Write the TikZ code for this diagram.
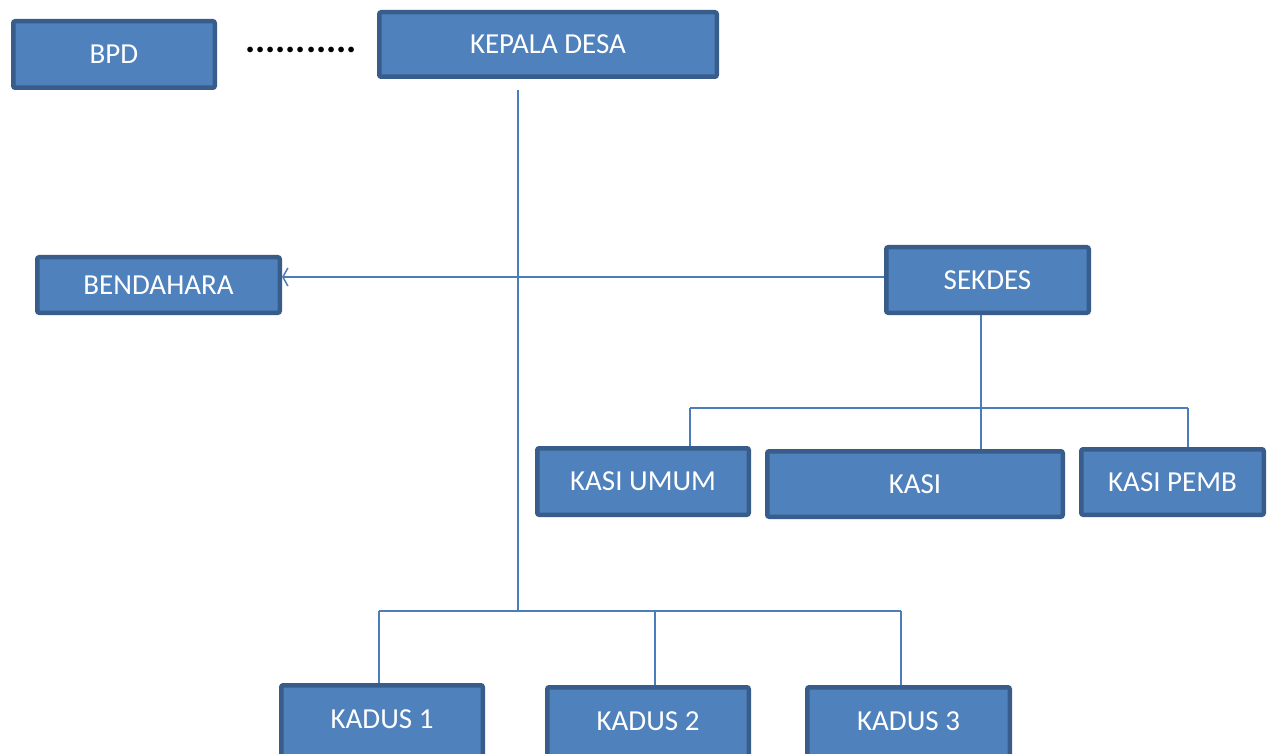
\documentclass[tikz,border=0pt]{standalone}
\usepackage{fontspec}
\setmainfont{Carlito}
\usetikzlibrary{arrows.meta}
\definecolor{boxfill}{HTML}{4F81BD}
\definecolor{boxline}{HTML}{385D8A}
\definecolor{conn}{HTML}{4A7EBB}
\begin{document}
\begin{tikzpicture}[x=1pt,y=-1pt,
  box/.style={draw=boxline,fill=boxfill,line width=4.5pt,rounded corners=2pt,
    text=white,font=\fontsize{29}{32}\selectfont,inner sep=0pt,anchor=center},
  conn/.style={draw=conn,line width=2pt}]
\useasboundingbox (0,0) rectangle (1267,754);
\clip (0,0) rectangle (1267,754);
\fill[white] (0,0) rectangle (1267,754);
\coordinate (ktop) at (518,90);
\coordinate (kj) at (518,611);
\coordinate (kl) at (379,611);
\coordinate (km) at (655,611);
\coordinate (kr) at (901,611);
\coordinate (sj) at (981,408);
\coordinate (sl) at (690,408);
\coordinate (sr) at (1188,408);

\node[box,minimum width=201.5pt,minimum height=66.5pt] (bpd) at (114,54.5) {BPD};
\node[box,minimum width=337.5pt,minimum height=64.5pt] (kades) at (548,44.5) {KEPALA DESA};
\node[box,minimum width=242.5pt,minimum height=55.5pt] (bend) at (158.5,285) {BENDAHARA};
\node[box,minimum width=202.5pt,minimum height=65.5pt] (sek) at (987.5,280) {SEKDES};
\node[box,minimum width=211.5pt,minimum height=66.5pt] (kum) at (643,481.5) {KASI UMUM};
\node[box,minimum width=295.5pt,minimum height=65.5pt] (kasi) at (915,484) {KASI};
\node[box,minimum width=182.5pt,minimum height=65.5pt] (kpemb) at (1172.5,482) {KASI PEMB};
\node[box,minimum width=201.5pt,minimum height=72pt,text depth=4pt] (kd1) at (382,721.25) {KADUS 1};
\node[box,minimum width=201.5pt,minimum height=72pt,text depth=4pt] (kd2) at (648,723.25) {KADUS 2};
\node[box,minimum width=202.5pt,minimum height=72pt,text depth=4pt] (kd3) at (908.5,723.25) {KADUS 3};

\node[font=\fontsize{38}{40}\selectfont\bfseries,inner sep=0pt] (dots) at (301,50) {...........};

\draw[conn] (ktop) -- (kj);
\draw[conn] (kl) -- (kr);
\draw[conn] (kl) -- (kl |- kd1.north);
\draw[conn] (km) -- (km |- kd2.north);
\draw[conn] (kr) -- (kr |- kd3.north);
\draw[conn] (sek.south -| sj) -- (sj |- kasi.north);
\draw[conn] (sl) -- (sr);
\draw[conn] (sl) -- (sl |- kum.north);
\draw[conn] (sr) -- (sr |- kpemb.north);
\draw[conn,-{Straight Barb[length=5pt,width=18pt,line width=1.5pt]}] (sek.west |- 0,277) -- (bend.east |- 0,277);
\end{tikzpicture}
\end{document}
